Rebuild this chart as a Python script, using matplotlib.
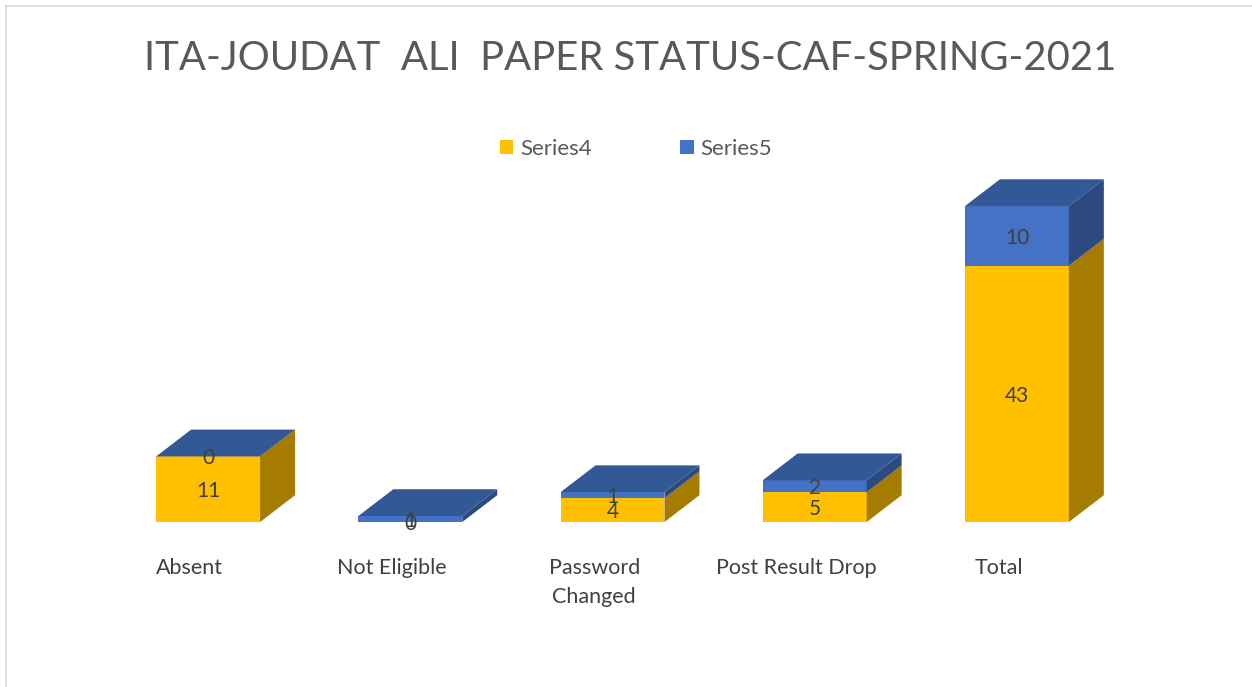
import numpy as np
import matplotlib.pyplot as plt
from matplotlib.patches import Polygon, Rectangle
from matplotlib.lines import Line2D

# Datos del gráfico
categories = ['Absent', 'Not Eligible', 'Password\nChanged', 'Post Result Drop', 'Total']
series4 = [11, 0, 4, 5, 43]
series5 = [0, 1, 1, 2, 10]

# Colores estilo Excel
yel_front, yel_side = '#FFC000', '#A67C00'
blu_front, blu_side, blu_top = '#4472C4', '#2C4A80', '#325896'
txt = '#595959'

plt.rcParams['font.family'] = ['Lato', 'DejaVu Sans']

fig = plt.figure(figsize=(12.52, 6.87), dpi=100)
ax = fig.add_axes([107 / 1252, 165 / 687, 1011 / 1252, 360 / 687])
ax.set_xlim(-0.5, 4.5)
ax.set_ylim(0, 60.4)
ax.axis('off')

w = 0.514   # ancho de la barra
dx = 0.173  # profundidad (x)
dy = 4.5    # profundidad (y)


def caja(x0, y0, h, front, side):
    ax.add_patch(Rectangle((x0 - w / 2, y0), w, h, fc=front, ec='none', clip_on=False))
    xr = x0 + w / 2
    ax.add_patch(Polygon([(xr, y0), (xr + dx, y0 + dy), (xr + dx, y0 + h + dy), (xr, y0 + h)],
                         closed=True, fc=side, ec='none', clip_on=False))


for i, (a, b) in enumerate(zip(series4, series5)):
    caja(i, 0, a, yel_front, yel_side)
    caja(i, a, b, blu_front, blu_side)
    top = a + b
    ax.add_patch(Polygon([(i - w / 2, top), (i - w / 2 + dx, top + dy),
                          (i + w / 2 + dx, top + dy), (i + w / 2, top)],
                         closed=True, fc=blu_top, ec='none', clip_on=False))
    # etiquetas de datos
    ax.text(i, a / 2, str(a), ha='center', va='center_baseline', fontsize=15, color='#404040')
    ax.text(i, a + b / 2, str(b), ha='center', va='center_baseline', fontsize=15, color='#404040')
    # etiquetas de categoría
    ax.text(i - 0.09, -6.0, categories[i], ha='center', va='top', fontsize=15.5,
            color='#404040', linespacing=1.6)

fig.text(0.503, 1 - 58 / 687, 'ITA-JOUDAT  ALI  PAPER STATUS-CAF-SPRING-2021',
         ha='center', va='center', fontsize=28.8, color=txt)

handles = [Rectangle((0, 0), 1, 1, fc=yel_front), Rectangle((0, 0), 1, 1, fc=blu_front)]
fig.legend(handles, ['Series4', 'Series5'], loc='center', bbox_to_anchor=(0.508, 1 - 149 / 687),
           ncol=2, frameon=False, fontsize=16, labelcolor=txt, handlelength=0.6,
           handleheight=0.6, handletextpad=0.3, columnspacing=4.0)

# borde del área del gráfico
fig.add_artist(Line2D([6 / 1252, 1], [1 - 6 / 687] * 2, color='#D9D9D9', lw=1.2))
fig.add_artist(Line2D([6 / 1252] * 2, [0, 1 - 6 / 687], color='#D9D9D9', lw=1.2))

fig.savefig('out.png', dpi=100)
